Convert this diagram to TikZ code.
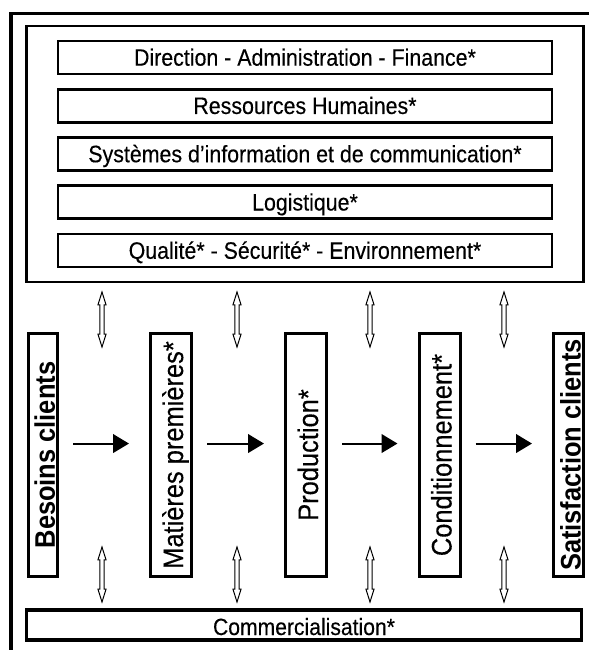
\documentclass[tikz,border=0pt]{standalone}
\usepackage{fontspec}
\setmainfont[FakeStretch=0.9,UprightFeatures={FakeBold=0.3}]{Liberation Sans}
\usetikzlibrary{positioning,fit,shapes.arrows,arrows.meta}

\begin{document}
\begin{tikzpicture}[x=0.75pt,y=-0.75pt,
    every node/.style={draw,rectangle,inner sep=0pt},
    dept/.style={line width=2.1pt,minimum width=370.5pt,minimum height=24.75pt,
      font=\fontsize{17.8}{20}\selectfont,text height=12.3pt,text depth=0pt},
    stage/.style={rotate=90,line width=2.25pt,minimum width=182.25pt,
      font=\fontsize{21.2}{24}\selectfont,text height=18pt,text depth=0pt},
    endstage/.style={stage,font=\fontsize{21.2}{24}\selectfont\bfseries},
    updown/.style={double arrow,line width=0.75pt,rotate=90,minimum height=41.25pt,
      inner ysep=1.25pt,double arrow head extend=1.4pt,double arrow tip angle=35},
    flow/.style={line width=1.5pt,-{Triangle[length=12pt,width=14pt]},
      shorten <=10.5pt,shorten >=15pt},
    node distance=36.2pt
    ]
    \useasboundingbox (0,0) rectangle (589,650);

    % outer frame
    \draw[line width=2.6pt] (11,650) -- (11,13.5) -- (589,13.5);

    % support functions
    \node[dept] (dir) at (305,57.5) {Direction - Administration - Finance*};
    \node[dept,below of=dir] (rh) {Ressources Humaines*};
    \node[dept,below of=rh] (si) {Systèmes d'information et de communication*};
    \node[dept,below of=si] (log) {Logistique*};
    \node[dept,below of=log] (qse) {Qualité* - Sécurité* - Environnement*};
    \node[fit=(dir)(qse),line width=1.7pt,inner xsep=22.5pt,inner ysep=10.4pt] (support) {};

    % process stages
    \node[endstage,minimum height=21.75pt] (besoin) at (43,455) {Besoins clients};
    \node[stage,minimum height=30.75pt] (matiere) at (171,455) {Matières premières*};
    \node[stage,minimum height=30.75pt] (prod) at (306,455) {Production*};
    \node[stage,minimum height=30.75pt] (cond) at (439.5,455) {Conditionnement*};
    \node[endstage,minimum height=22.5pt] (satis) at (568.5,455) {Satisfaction clients};

    \node[line width=2.5pt,minimum width=416.25pt,minimum height=22.5pt,
      font=\fontsize{17.6}{20}\selectfont,text height=15pt,text depth=0pt]
      (com) at (304,625) {Commercialisation*};

    % exchanges
    \node[updown] (u1) at (102,319.5) {};
    \node[updown] (u2) at (237,319.5) {};
    \node[updown] (u3) at (370,319.5) {};
    \node[updown] (u4) at (504,319.5) {};
    \node[updown] (d1) at (102,574.5) {};
    \node[updown] (d2) at (237,574.5) {};
    \node[updown] (d3) at (370,574.5) {};
    \node[updown] (d4) at (504,574.5) {};

    % the flow
    \draw[flow] ([yshift=8.6pt]besoin.south) -- ([yshift=8.6pt]matiere.north);
    \draw[flow] ([yshift=8.6pt]matiere.south) -- ([yshift=8.6pt]prod.north);
    \draw[flow] ([yshift=8.6pt]prod.south) -- ([yshift=8.6pt]cond.north);
    \draw[flow] ([yshift=8.6pt]cond.south) -- ([yshift=8.6pt]satis.north);
\end{tikzpicture}
\end{document}
